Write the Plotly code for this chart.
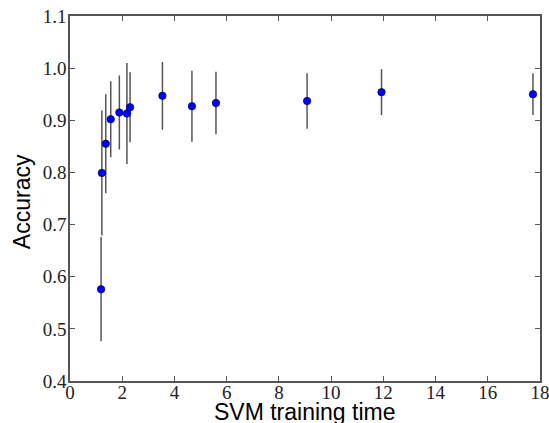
import plotly.graph_objects as go

train_time = [1.19, 1.22, 1.37, 1.56, 1.89, 2.18, 2.30, 3.54, 4.67, 5.59, 9.08, 11.93, 17.73]
accuracy = [0.576, 0.799, 0.855, 0.902, 0.915, 0.913, 0.925, 0.947, 0.927, 0.933, 0.937, 0.954, 0.950]
acc_err = [0.100, 0.120, 0.095, 0.073, 0.071, 0.097, 0.067, 0.065, 0.068, 0.060, 0.053, 0.044, 0.040]

x_ticks = [0, 2, 4, 6, 8, 10, 12, 14, 16, 18]
y_ticks = [0.4, 0.5, 0.6, 0.7, 0.8, 0.9, 1.0, 1.1]

fig = go.Figure()
fig.add_trace(go.Scatter(
    x=train_time, y=accuracy, mode="markers",
    marker=dict(color="#0000ff", size=7.5, line=dict(color="#000033", width=0.6)),
    error_y=dict(type="data", array=acc_err, visible=True, color="#555555",
                 thickness=1.5, width=0),
    showlegend=False,
))

axis_common = dict(
    showgrid=False, zeroline=False, showline=True, linecolor="#555555", linewidth=1.5,
    mirror="allticks", ticks="inside", ticklen=5, tickcolor="#555555", tickwidth=1,
    tickfont=dict(family="Liberation Serif, DejaVu Serif, serif", size=19, color="#222222"),
    automargin=False, ticklabeloverflow="allow",
)

fig.update_layout(
    width=549, height=423,
    margin=dict(l=70, r=9, t=16, b=42),
    paper_bgcolor="white", plot_bgcolor="white",
    xaxis=dict(range=[0, 18], tickvals=x_ticks, ticktext=[str(v) for v in x_ticks],
               ticklabelstandoff=-7, **axis_common),
    yaxis=dict(range=[0.4, 1.1], tickvals=y_ticks, ticktext=[f"{v:.1f}" for v in y_ticks],
               ticklabelstandoff=-2, **axis_common),
    annotations=[
        dict(text="SVM training time", xref="paper", yref="paper", x=0.5, y=0,
             xanchor="center", yanchor="top", yshift=-16, showarrow=False,
             font=dict(family="Liberation Sans, Arial, sans-serif", size=23, color="black")),
        dict(text="Accuracy", xref="paper", yref="paper", x=0, y=0.49,
             xanchor="center", yanchor="middle", xshift=-48, textangle=-90,
             showarrow=False,
             font=dict(family="Liberation Sans, Arial, sans-serif", size=23, color="black")),
    ],
)

fig.write_html(
    "out.html",
    config={"displayModeBar": False},
    post_script="document.body.style.margin='0';document.documentElement.style.overflow='hidden';",
)
